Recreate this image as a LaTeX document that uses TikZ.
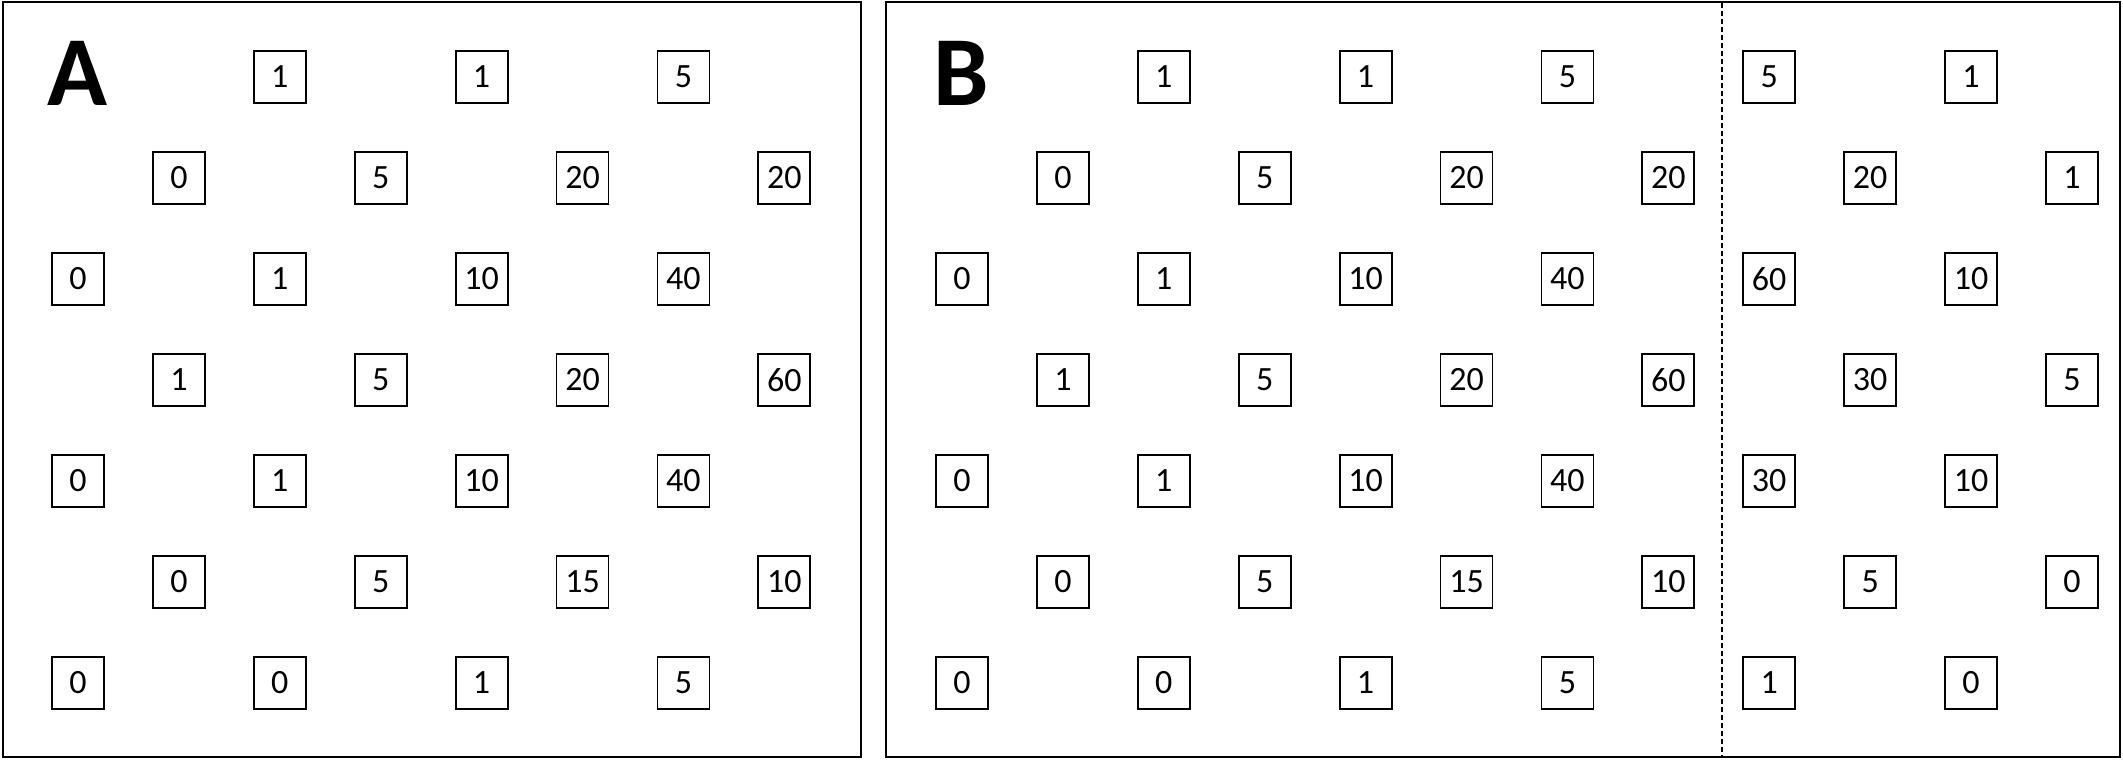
\documentclass[tikz,border=0pt]{standalone}
\usepackage{fontspec}
\setmainfont{Carlito}
\begin{document}
\begin{tikzpicture}[x=1pt,y=-1pt,
  numbox/.style={draw, line width=1.8pt, minimum width=52pt, minimum height=52pt, inner sep=0pt, font=\fontsize{34}{40}\selectfont},
  panel/.style={draw, line width=2.6pt},
  panellabel/.style={inner sep=0pt, anchor=base, font=\fontsize{99}{110}\selectfont\bfseries},
  divider/.style={line width=1.5pt, dash pattern=on 5pt off 3pt}]
\useasboundingbox (0,0) rectangle (2123,768);
\fill[white] (0,0) rectangle (2123,768);
\draw[panel] (3,2) rectangle (861,757);
\draw[panel] (886,2) rectangle (2120,757);
\coordinate (dtop) at (1722,3);
\coordinate (dbot) at (1722,756);
\draw[divider] (dtop) -- (dbot);
\node[panellabel] (labA) at (77,105) {A};
\node[panellabel] (labB) at (961,105) {B};
\foreach \r/\c/\v in {0/2/1,0/4/1,0/6/5,
  1/1/0,1/3/5,1/5/20,1/7/20,
  2/0/0,2/2/1,2/4/10,2/6/40,
  3/1/1,3/3/5,3/5/20,3/7/60,
  4/0/0,4/2/1,4/4/10,4/6/40,
  5/1/0,5/3/5,5/5/15,5/7/10,
  6/0/0,6/2/0,6/4/1,6/6/5}{
  \node[numbox] (a-\r-\c) at ({78+100.9*\c},{77+101*\r}) {\v};
  \node[numbox] (b-\r-\c) at ({962+100.9*\c},{77+101*\r}) {\v};
}
\foreach \r/\c/\v in {0/8/5,0/10/1,
  1/9/20,1/11/1,
  2/8/60,2/10/10,
  3/9/30,3/11/5,
  4/8/30,4/10/10,
  5/9/5,5/11/0,
  6/8/1,6/10/0}{
  \node[numbox] (b-\r-\c) at ({962+100.9*\c},{77+101*\r}) {\v};
}
\end{tikzpicture}
\end{document}
